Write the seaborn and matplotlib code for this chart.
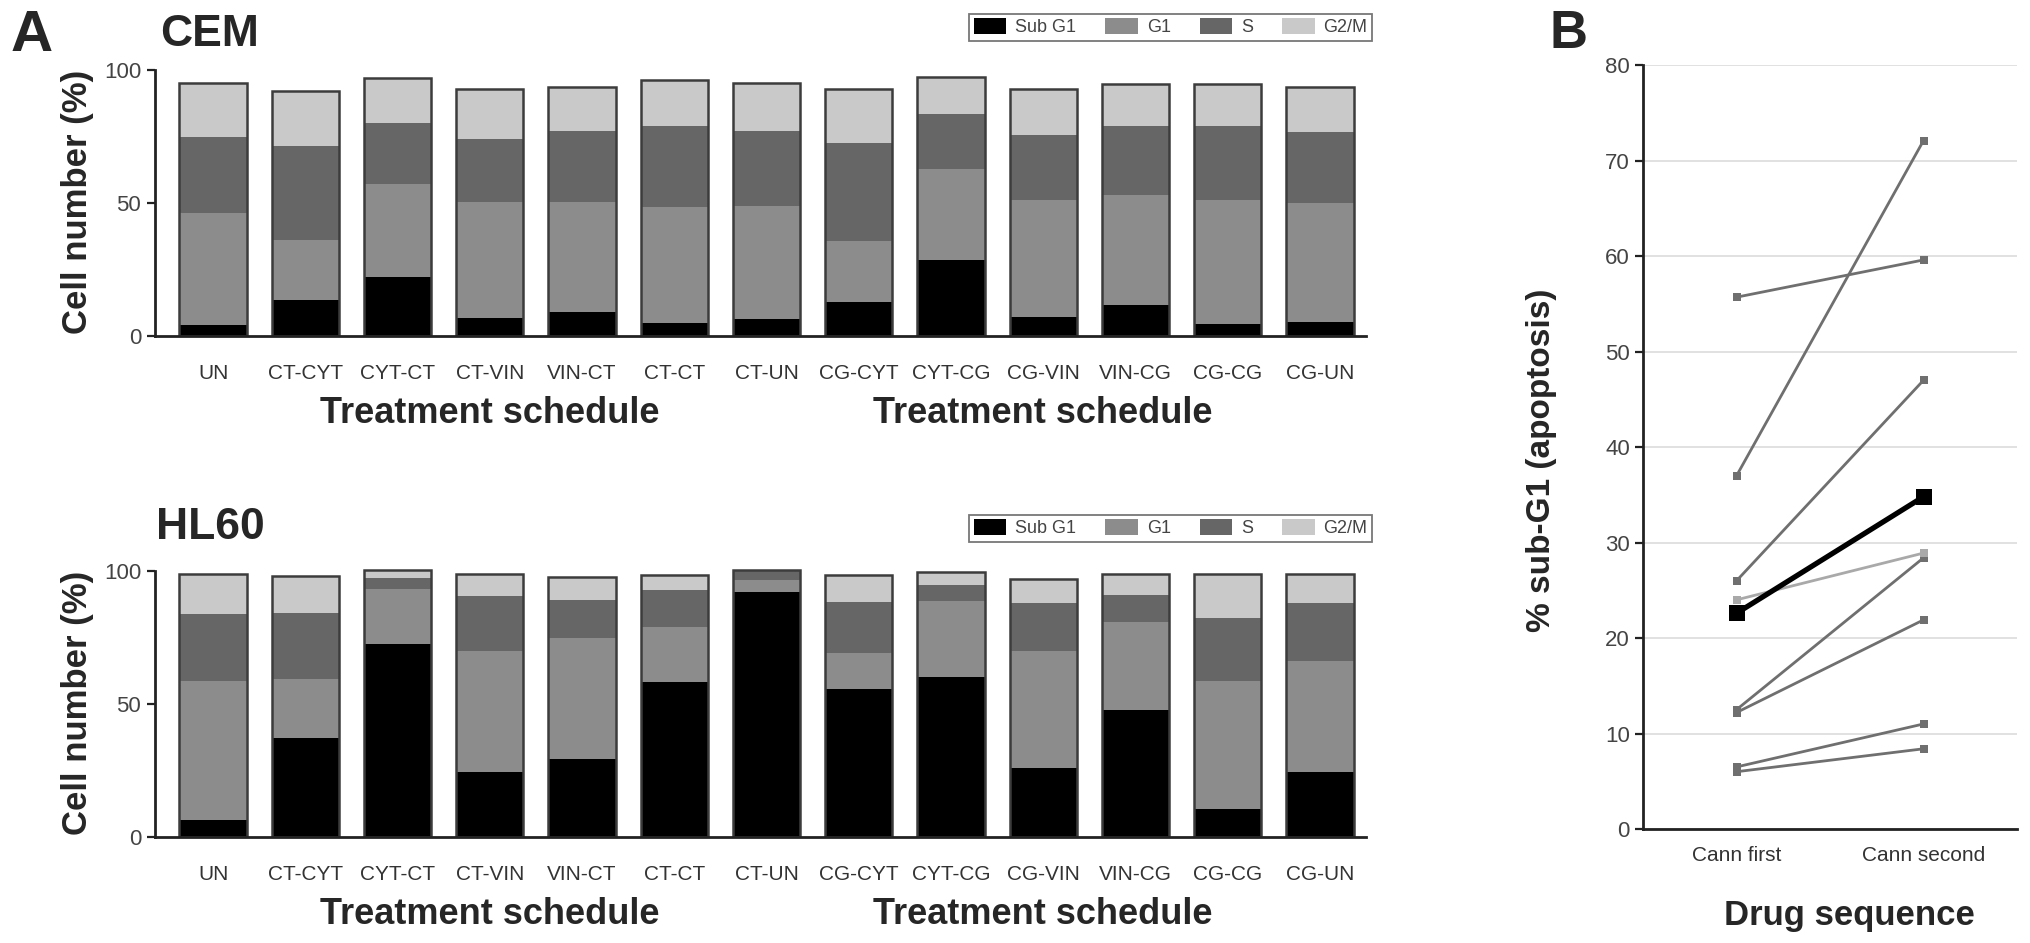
import matplotlib
matplotlib.use("Agg")
import matplotlib.pyplot as plt
import matplotlib.patches as mpatches
import seaborn as sns
import numpy as np
import pandas as pd

# ---- data ----
schedules = ['UN', 'CT-CYT', 'CYT-CT', 'CT-VIN', 'VIN-CT', 'CT-CT', 'CT-UN',
             'CG-CYT', 'CYT-CG', 'CG-VIN', 'VIN-CG', 'CG-CG', 'CG-UN']
phases = ['Sub G1', 'G1', 'S', 'G2/M']

cem_subg1 = [4.0, 13.6, 22.1, 6.8, 9.2, 4.9, 6.5, 12.6, 28.6, 7.3, 11.7, 4.4, 5.3]
cem_g1 = [42.2, 22.3, 35.2, 43.6, 41.2, 43.5, 42.4, 23.2, 34.1, 43.8, 41.3, 46.6, 44.7]
cem_s = [28.7, 35.5, 22.6, 23.7, 26.8, 30.6, 28.2, 36.6, 20.8, 24.5, 26.0, 28.0, 26.7]
cem_g2m = [20.3, 20.7, 17.2, 18.6, 16.4, 17.2, 17.9, 20.6, 14.0, 17.4, 15.7, 15.7, 17.0]

hl60_subg1 = [6.3, 37.2, 72.4, 24.3, 29.2, 58.2, 92.2, 55.8, 60.2, 26.0, 47.6, 10.7, 24.3]
hl60_g1 = [52.5, 22.2, 20.7, 45.6, 45.8, 20.7, 4.4, 13.3, 28.6, 44.0, 33.4, 48.0, 41.7]
hl60_s = [25.0, 25.0, 4.4, 20.8, 14.2, 13.8, 3.5, 19.4, 5.9, 17.8, 10.0, 23.8, 21.9]
hl60_g2m = [15.2, 13.6, 2.9, 8.0, 8.5, 5.8, 0.3, 10.0, 4.8, 9.1, 8.0, 16.5, 11.1]

sequence = ['Cann first', 'Cann second']
cann_first = [55.7, 37.0, 26.0, 24.0, 12.5, 12.2, 6.5, 6.0]
cann_second = [59.6, 72.1, 47.0, 28.9, 28.4, 21.9, 11.0, 8.4]
mean_values = [22.6, 34.8]

phase_colors = {'Sub G1': '#000000', 'G1': '#8c8c8c', 'S': '#666666', 'G2/M': '#c9c9c9'}

sns.set_theme(style='white')
plt.rcParams['font.family'] = ['Liberation Sans', 'DejaVu Sans']
narrow = ['Liberation Sans Narrow', 'Liberation Sans', 'DejaVu Sans']

fig = plt.figure(figsize=(20.31, 9.43), dpi=100)


def stacked_panel(ax, subg1, g1, s, g2m):
    df = pd.DataFrame({'schedule': schedules, 'Sub G1': subg1, 'G1': g1,
                       'S': s, 'G2/M': g2m})
    cum = df[phases].cumsum(axis=1)
    # draw from the top layer down so each layer covers the one above
    for ph in reversed(phases):
        sns.barplot(x=df['schedule'], y=cum[ph], color=phase_colors[ph],
                    saturation=1, width=0.73, linewidth=0, edgecolor='none', ax=ax)
    sns.barplot(x=df['schedule'], y=cum['G2/M'], color='#3c3c3c', fill=False,
                width=0.73, linewidth=1.8, ax=ax)

    n = len(schedules)
    ax.set_xlim(-0.63, n - 0.5)
    ax.set_ylim(0, 101)
    ax.set_xticks(np.arange(n) + 0.5, [''] * n)
    ax.set_xticks(np.arange(n), schedules, minor=True)
    ax.tick_params(axis='x', which='major', direction='inout', length=11,
                   width=1.6, color='#222222')
    ax.tick_params(axis='x', which='minor', length=0, pad=20, labelsize=15,
                   labelcolor='#333333')
    for lbl in ax.get_xticklabels(minor=True):
        lbl.set_family(narrow)
    ax.set_yticks([0, 50, 100])
    ax.tick_params(axis='y', direction='out', length=6, width=1.6, pad=4,
                   labelsize=16, labelcolor='#444444', color='#222222', left=True)
    for lbl in ax.get_yticklabels():
        lbl.set_family(narrow)
    for side in ['top', 'right']:
        ax.spines[side].set_visible(False)
    for side in ['left', 'bottom']:
        ax.spines[side].set_color('#222222')
        ax.spines[side].set_linewidth(2)
    ax.spines['left'].set_bounds(0, 100)
    ax.set_xlabel('')
    ax.set_ylabel('Cell number (%)', fontsize=25, fontweight='bold')
    ax.yaxis.set_label_coords(-0.05, 0.5)
    for pos in [3, 9]:
        ax.text(pos, -0.29, 'Treatment schedule', transform=ax.get_xaxis_transform(),
                ha='center', va='center', fontsize=26, fontweight='bold')

    handles = [mpatches.Patch(facecolor=phase_colors[ph], edgecolor='none', label=ph)
               for ph in phases]
    leg = ax.legend(handles=handles, ncol=4, loc='upper right',
                    bbox_to_anchor=(1.005, 1.2), fontsize=13, frameon=True,
                    fancybox=False, handlelength=1.8, handleheight=1.0,
                    handletextpad=0.5, columnspacing=1.6, borderpad=0.25,
                    borderaxespad=0)
    leg.get_frame().set_edgecolor('#555555')
    leg.get_frame().set_linewidth(1.3)
    for t in leg.get_texts():
        t.set_color('#444444')


ax_cem = fig.add_axes([0.0763, 0.6437, 0.5963, 0.2849])
stacked_panel(ax_cem, cem_subg1, cem_g1, cem_s, cem_g2m)
ax_hl = fig.add_axes([0.0763, 0.1124, 0.5963, 0.2849])
stacked_panel(ax_hl, hl60_subg1, hl60_g1, hl60_s, hl60_g2m)

fig.text(0.079, 0.963, 'CEM', fontsize=32, fontweight='bold', va='center', ha='left')
fig.text(0.077, 0.441, 'HL60', fontsize=32, fontweight='bold', va='center', ha='left')
fig.text(0.005, 0.99, 'A', fontsize=42, fontweight='bold', va='top', ha='left')
fig.text(0.763, 0.99, 'B', fontsize=38, fontweight='bold', va='top', ha='left')

# ---- panel B ----
ax_b = fig.add_axes([0.809, 0.1209, 0.1841, 0.810])
n_pairs = len(cann_first)
long_df = pd.DataFrame({
    'pair': list(range(n_pairs)) * 2,
    'sequence': [sequence[0]] * n_pairs + [sequence[1]] * n_pairs,
    'value': cann_first + cann_second,
})
long_df['shade'] = np.where(long_df['pair'] == 3, 'light', 'dark')
sns.lineplot(data=long_df, x='sequence', y='value', units='pair', estimator=None,
             hue='shade', palette={'dark': '#6f6f6f', 'light': '#a9a9a9'},
             marker='s', markersize=6, markeredgewidth=0, linewidth=2,
             legend=False, ax=ax_b, zorder=3)
sns.lineplot(x=sequence, y=mean_values, color='black', marker='s', markersize=11,
             markeredgewidth=0, linewidth=3.8, ax=ax_b, zorder=4)

ax_b.set_xlim(-0.5, 1.5)
ax_b.set_ylim(0, 80)
ax_b.set_yticks(np.arange(0, 81, 10))
ax_b.yaxis.grid(True, color='#dedede', linewidth=1.3)
ax_b.set_axisbelow(True)
ax_b.set_xticks([0.5, 1.5], ['', ''])
ax_b.set_xticks([0, 1], sequence, minor=True)
ax_b.tick_params(axis='x', which='major', direction='inout', length=11, width=1.6,
                 color='#222222')
ax_b.tick_params(axis='x', which='minor', length=0, pad=12, labelsize=15,
                 labelcolor='#333333')
ax_b.tick_params(axis='y', direction='out', length=6, width=1.6, left=True,
                 labelsize=16, labelcolor='#444444', color='#222222')
for side in ['top', 'right']:
    ax_b.spines[side].set_visible(False)
for side in ['left', 'bottom']:
    ax_b.spines[side].set_color('#222222')
    ax_b.spines[side].set_linewidth(2)
ax_b.set_xlabel('Drug sequence', fontsize=25, fontweight='bold')
ax_b.xaxis.set_label_coords(0.553, -0.092)
ax_b.set_ylabel('% sub-G1 (apoptosis)', fontsize=24, fontweight='bold')
ax_b.yaxis.set_label_coords(-0.23, 0.483)

fig.savefig('out.png', dpi=100)
